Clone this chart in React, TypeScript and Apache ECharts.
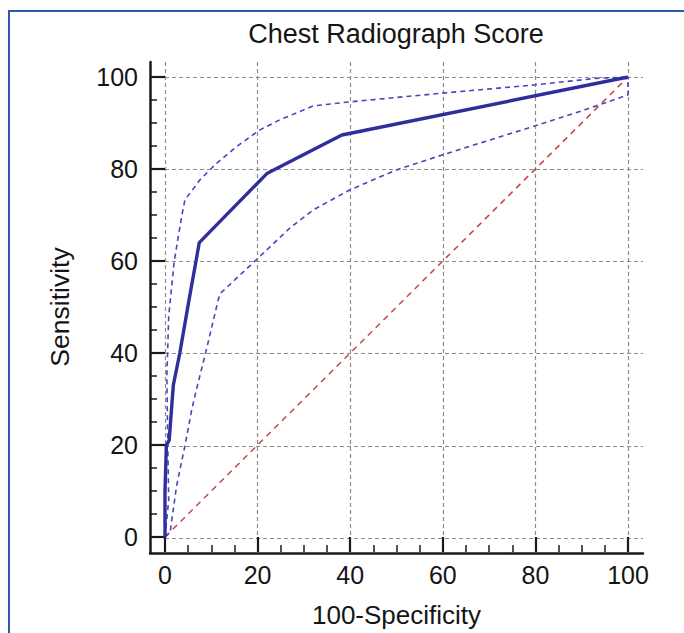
import React, { useEffect, useRef } from 'react';
import * as echarts from 'echarts';

// ---- data ----
const title = 'Chest Radiograph Score';
const xName = '100-Specificity';
const yName = 'Sensitivity';

const rocX = [0, 0, 0.3, 0.9, 1.8, 3.2, 5.2, 6.7, 7.4, 22, 38.2, 100];
const rocY = [0, 10, 20, 21, 33, 40, 51.6, 60, 64, 79, 87.4, 100];

const upperX = [0, 0.8, 0.6, 0.4, 0.8, 2.0, 3.6, 4.3, 7.6, 11.2, 15.5, 20.5, 24.8, 32, 40, 60, 80, 93, 100];
const upperY = [0, 8, 20, 35, 48, 60, 69.7, 73.3, 77.7, 81.3, 84.9, 88.5, 90.7, 93.7, 94.6, 96.5, 98.3, 99.7, 100];

const lowerX = [0, 1.1, 2.5, 4.3, 5.8, 6.8, 8.6, 11.5, 12, 20.5, 27, 32, 40, 50, 60, 80, 89.6, 100, 100];
const lowerY = [0, 1, 11.1, 19.8, 27.8, 32.1, 39.3, 51.6, 53, 61, 67.2, 71.1, 75.5, 79.8, 83.1, 89.4, 92.5, 96.1, 100];

const diagX = [0, 100];
const diagY = [0, 100];

const pairs = (xs: number[], ys: number[]) => xs.map((x, i) => [x, ys[i]]);

export default function App() {
  const ref = useRef<HTMLDivElement>(null);
  useEffect(() => {
    const chart = echarts.init(ref.current!, null, { renderer: 'svg' });
    const font = 'Liberation Sans';
    const ink = '#1a1a1a';
    const gridLine = { color: '#8c8c8c', width: 1.2, type: [4, 3] as any };
    const option: any = {
      animation: false,
      backgroundColor: '#ffffff',
      grid: [
        { left: 165, right: 56, top: 77, bottom: 95 },
        { left: 150, right: 41, top: 62, bottom: 80 },
        { left: 165, right: 41, top: 62, bottom: 95 },
      ],
      xAxis: [
        {
          gridIndex: 0, type: 'value', min: 0, max: 100, interval: 20,
          position: 'bottom', offset: 15,
          axisLine: { show: false, onZero: false },
          axisTick: { show: true, inside: true, length: 15, lineStyle: { color: ink, width: 2.2 } },
          minorTick: { show: true, splitNumber: 4, length: 7, lineStyle: { color: ink, width: 1.5 } },
          axisLabel: { fontSize: 25, fontFamily: font, color: '#151515', margin: 10 },
          splitLine: { show: false },
          name: xName, nameLocation: 'middle', nameGap: 50,
          nameTextStyle: { fontSize: 26, fontFamily: font, color: '#151515' },
        },
        {
          gridIndex: 1, type: 'value', min: 0, max: 1,
          axisLine: { show: true, onZero: false, lineStyle: { color: ink, width: 2.5 } },
          axisTick: { show: false }, axisLabel: { show: false }, splitLine: { show: false },
        },
        {
          gridIndex: 2, type: 'value', min: 0, max: 103.24, interval: 20,
          axisLine: { show: false }, axisTick: { show: false }, axisLabel: { show: false },
          splitLine: { show: true, showMinLine: true, showMaxLine: false, lineStyle: gridLine },
        },
      ],
      yAxis: [
        {
          gridIndex: 0, type: 'value', min: 0, max: 100, interval: 20,
          position: 'left', offset: 15,
          axisLine: { show: false, onZero: false },
          axisTick: { show: true, inside: true, length: 15, lineStyle: { color: ink, width: 2.2 } },
          minorTick: { show: true, splitNumber: 4, length: 7, lineStyle: { color: ink, width: 1.5 } },
          axisLabel: { fontSize: 25, fontFamily: font, color: '#151515', margin: 12 },
          splitLine: { show: false },
          name: yName, nameLocation: 'middle', nameGap: 77,
          nameTextStyle: { fontSize: 26.5, fontFamily: font, color: '#151515' },
        },
        {
          gridIndex: 1, type: 'value', min: 0, max: 1,
          axisLine: { show: true, onZero: false, lineStyle: { color: ink, width: 2.5 } },
          axisTick: { show: false }, axisLabel: { show: false }, splitLine: { show: false },
        },
        {
          gridIndex: 2, type: 'value', min: 0, max: 103.25, interval: 20,
          axisLine: { show: false }, axisTick: { show: false }, axisLabel: { show: false },
          splitLine: { show: true, showMinLine: true, showMaxLine: false, lineStyle: gridLine },
        },
      ],
      graphic: [
        {
          type: 'rect', silent: true, z: 100,
          shape: { x: 9, y: 11, width: 800, height: 800 },
          style: { fill: 'none', stroke: '#2f56ad', lineWidth: 2 },
        },
        {
          type: 'text', x: 396, y: 20, z: 100,
          style: {
            text: title, fontSize: 27, fontFamily: font, fill: '#151515',
            align: 'center', verticalAlign: 'top',
          },
        },
      ],
      series: [
        {
          type: 'line', xAxisIndex: 0, yAxisIndex: 0, data: pairs(diagX, diagY),
          showSymbol: false, z: 2,
          lineStyle: { color: '#c0474a', width: 1.5, type: [6, 5] },
        },
        {
          type: 'line', xAxisIndex: 0, yAxisIndex: 0, data: pairs(upperX, upperY),
          showSymbol: false, z: 3,
          lineStyle: { color: '#4646bd', width: 1.6, type: [5, 4] },
        },
        {
          type: 'line', xAxisIndex: 0, yAxisIndex: 0, data: pairs(lowerX, lowerY),
          showSymbol: false, z: 3,
          lineStyle: { color: '#4646bd', width: 1.6, type: [5, 4] },
        },
        {
          type: 'line', xAxisIndex: 0, yAxisIndex: 0, data: pairs(rocX, rocY),
          showSymbol: false, z: 4,
          lineStyle: { color: '#2f2f9c', width: 3.4 },
        },
      ],
    };
    chart.setOption(option);
    return () => chart.dispose();
  }, []);
  return (
    <div
      ref={ref}
      style={{ position: 'absolute', left: 0, top: 0, width: 684, height: 633 }}
    />
  );
}
